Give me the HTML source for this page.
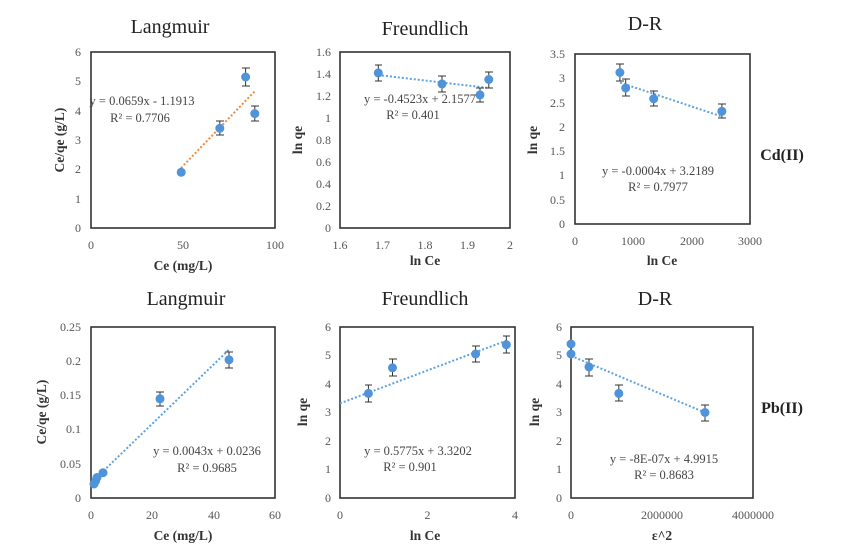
<!DOCTYPE html>
<html><head><meta charset="utf-8"><style>
body{margin:0;background:#fff}
svg{display:block;font-family:"Liberation Serif",serif}
.t{font-size:12px;fill:#555}
.ax{font-size:13.5px;font-weight:bold;fill:#333}
.ti{font-size:20px;fill:#222}
.eq{font-size:12.5px;fill:#444}
.f{fill:none;stroke:#333;stroke-width:1.6}
.pt{fill:#4f93d9}
.eb{stroke:#333;stroke-width:1}
.tb{stroke:#5ba3e0;stroke-width:2;stroke-dasharray:2,2;fill:none}
.to{stroke:#f08a40;stroke-width:2;stroke-dasharray:2,2;fill:none}
</style></head><body>
<svg width="864" height="554" viewBox="0 0 864 554">
<text class="ti" x="170" y="33" text-anchor="middle">Langmuir</text>
<text class="ti" x="425" y="35" text-anchor="middle">Freundlich</text>
<text class="ti" x="645" y="30" text-anchor="middle">D-R</text>
<text class="ti" x="186" y="305" text-anchor="middle">Langmuir</text>
<text class="ti" x="425" y="305" text-anchor="middle">Freundlich</text>
<text class="ti" x="655" y="305" text-anchor="middle">D-R</text>
<text x="782" y="160" text-anchor="middle" style="font-size:16px;font-weight:bold;fill:#222">Cd(II)</text>
<text x="782" y="413" text-anchor="middle" style="font-size:16px;font-weight:bold;fill:#222">Pb(II)</text>

<!-- Panel 1 -->
<rect class="f" x="91" y="52" width="184" height="176"/>
<g class="t" text-anchor="end">
<text x="81" y="232">0</text><text x="81" y="203">1</text><text x="81" y="173">2</text><text x="81" y="144">3</text><text x="81" y="115">4</text><text x="81" y="85">5</text><text x="81" y="56">6</text></g>
<g class="t" text-anchor="middle"><text x="91" y="249">0</text><text x="183" y="249">50</text><text x="275" y="249">100</text></g>
<text class="ax" x="183" y="270" text-anchor="middle">Ce (mg/L)</text>
<text class="ax" transform="translate(64,140) rotate(-90)" text-anchor="middle">Ce/qe (g/L)</text>
<line class="to" x1="181" y1="168" x2="255" y2="91"/>
<g class="eb"><path d="M219.8 121v14M216 121h8M216 135h8M245.6 68v18M242 68h8M242 86h8M254.8 106v15M251 106h8M251 121h8"/></g>
<g class="pt"><circle cx="181.2" cy="172.3" r="4.5"/><circle cx="219.8" cy="128.3" r="4.5"/><circle cx="245.6" cy="77" r="4.5"/><circle cx="254.8" cy="113.6" r="4.5"/></g>
<text class="eq" x="142" y="105" text-anchor="middle">y = 0.0659x - 1.1913</text>
<text class="eq" x="140" y="122" text-anchor="middle">R² = 0.7706</text>

<!-- Panel 2 -->
<rect class="f" x="340" y="52" width="170" height="176"/>
<g class="t" text-anchor="end">
<text x="331" y="232">0</text><text x="331" y="210">0.2</text><text x="331" y="188">0.4</text><text x="331" y="166">0.6</text><text x="331" y="144">0.8</text><text x="331" y="122">1</text><text x="331" y="100">1.2</text><text x="331" y="78">1.4</text><text x="331" y="56">1.6</text></g>
<g class="t" text-anchor="middle"><text x="340" y="249">1.6</text><text x="382.5" y="249">1.7</text><text x="425" y="249">1.8</text><text x="467.5" y="249">1.9</text><text x="510" y="249">2</text></g>
<text class="ax" x="425" y="265" text-anchor="middle">ln Ce</text>
<text class="ax" transform="translate(302,140) rotate(-90)" text-anchor="middle">ln qe</text>
<line class="tb" x1="378" y1="75" x2="489" y2="88"/>
<g class="eb"><path d="M378.3 65v16M375 65h7M375 81h7M442 76v16M438 76h8M438 92h8M480 88v14M476 88h8M476 102h8M488.8 72v16M485 72h8M485 88h8"/></g>
<g class="pt"><circle cx="378.3" cy="72.9" r="4.5"/><circle cx="442" cy="83.9" r="4.5"/><circle cx="480" cy="94.9" r="4.5"/><circle cx="488.8" cy="79.5" r="4.5"/></g>
<text class="eq" x="420" y="103" text-anchor="middle">y = -0.4523x + 2.1577</text>
<text class="eq" x="413" y="119" text-anchor="middle">R² = 0.401</text>

<!-- Panel 3 -->
<rect class="f" x="575" y="54" width="175" height="170"/>
<g class="t" text-anchor="end">
<text x="565" y="228">0</text><text x="565" y="204">0.5</text><text x="565" y="179">1</text><text x="565" y="155">1.5</text><text x="565" y="131">2</text><text x="565" y="107">2.5</text><text x="565" y="82">3</text><text x="565" y="58">3.5</text></g>
<g class="t" text-anchor="middle"><text x="575" y="245">0</text><text x="633" y="245">1000</text><text x="692" y="245">2000</text><text x="750" y="245">3000</text></g>
<text class="ax" x="662" y="265" text-anchor="middle">ln Ce</text>
<text class="ax" transform="translate(537,140) rotate(-90)" text-anchor="middle">ln qe</text>
<line class="tb" x1="620" y1="82.6" x2="722" y2="116.6"/>
<g class="eb"><path d="M619.9 64v17M616 64h8M616 81h8M625.7 79v17M622 79h8M622 96h8M653.7 91v15M650 91h8M650 106h8M721.9 104v14M718 104h8M718 118h8"/></g>
<g class="pt"><circle cx="619.9" cy="72.5" r="4.5"/><circle cx="625.7" cy="88" r="4.5"/><circle cx="653.7" cy="98.7" r="4.5"/><circle cx="721.9" cy="111.3" r="4.5"/></g>
<text class="eq" x="658" y="175" text-anchor="middle">y = -0.0004x + 3.2189</text>
<text class="eq" x="658" y="191" text-anchor="middle">R² = 0.7977</text>

<!-- Panel 4 -->
<rect class="f" x="91" y="327" width="184" height="171"/>
<g class="t" text-anchor="end">
<text x="81" y="502">0</text><text x="81" y="468">0.05</text><text x="81" y="433">0.1</text><text x="81" y="399">0.15</text><text x="81" y="365">0.2</text><text x="81" y="331">0.25</text></g>
<g class="t" text-anchor="middle"><text x="91" y="519">0</text><text x="152" y="519">20</text><text x="214" y="519">40</text><text x="275" y="519">60</text></g>
<text class="ax" x="183" y="540" text-anchor="middle">Ce (mg/L)</text>
<text class="ax" transform="translate(46,412) rotate(-90)" text-anchor="middle">Ce/qe (g/L)</text>
<line class="tb" x1="92" y1="482" x2="229" y2="349.6"/>
<g class="eb"><path d="M160 392v14M156 392h8M156 406h8M229 352v16M225 352h8M225 368h8"/></g>
<g class="pt"><circle cx="94" cy="484" r="4.5"/><circle cx="95.6" cy="481" r="4.5"/><circle cx="97" cy="477.5" r="4.5"/><circle cx="103" cy="472.7" r="4.5"/><circle cx="160" cy="398.8" r="4.5"/><circle cx="229" cy="359.8" r="4.5"/></g>
<text class="eq" x="207" y="455" text-anchor="middle">y = 0.0043x + 0.0236</text>
<text class="eq" x="207" y="472" text-anchor="middle">R² = 0.9685</text>

<!-- Panel 5 -->
<rect class="f" x="340" y="327" width="175" height="171"/>
<g class="t" text-anchor="end">
<text x="331" y="502">0</text><text x="331" y="473">1</text><text x="331" y="445">2</text><text x="331" y="416">3</text><text x="331" y="388">4</text><text x="331" y="359">5</text><text x="331" y="331">6</text></g>
<g class="t" text-anchor="middle"><text x="340" y="519">0</text><text x="427.5" y="519">2</text><text x="515" y="519">4</text></g>
<text class="ax" x="425" y="540" text-anchor="middle">ln Ce</text>
<text class="ax" transform="translate(307,412) rotate(-90)" text-anchor="middle">ln qe</text>
<line class="tb" x1="340" y1="403.4" x2="506" y2="340.8"/>
<g class="eb"><path d="M368.4 385v17M365 385h7M365 402h7M392.5 359v17M389 359h8M389 376h8M475.6 346v16M472 346h8M472 362h8M506.3 336v17M503 336h7M503 353h7"/></g>
<g class="pt"><circle cx="368.4" cy="393.4" r="4.5"/><circle cx="392.5" cy="367.8" r="4.5"/><circle cx="475.6" cy="354" r="4.5"/><circle cx="506.3" cy="344.7" r="4.5"/></g>
<text class="eq" x="418" y="455" text-anchor="middle">y = 0.5775x + 3.3202</text>
<text class="eq" x="410" y="471" text-anchor="middle">R² = 0.901</text>

<!-- Panel 6 -->
<rect class="f" x="571" y="327" width="182" height="171"/>
<g class="t" text-anchor="end">
<text x="562" y="502">0</text><text x="562" y="473">1</text><text x="562" y="445">2</text><text x="562" y="416">3</text><text x="562" y="388">4</text><text x="562" y="359">5</text><text x="562" y="331">6</text></g>
<g class="t" text-anchor="middle"><text x="571" y="519">0</text><text x="662" y="519">2000000</text><text x="753" y="519">4000000</text></g>
<text class="ax" x="662" y="540" text-anchor="middle">ε^2</text>
<text class="ax" transform="translate(539,412) rotate(-90)" text-anchor="middle">ln qe</text>
<line class="tb" x1="571" y1="355.8" x2="706" y2="413"/>
<g class="eb"><path d="M571 336v16M589 359v17M585 359h8M585 376h8M618.8 385v16M615 385h8M615 401h8M705 405v16M701 405h8M701 421h8"/></g>
<g class="pt"><circle cx="571" cy="344" r="4.5"/><circle cx="571" cy="354" r="4.5"/><circle cx="589" cy="367" r="4.5"/><circle cx="618.8" cy="393.4" r="4.5"/><circle cx="705" cy="412.5" r="4.5"/></g>
<text class="eq" x="664" y="463" text-anchor="middle">y = -8E-07x + 4.9915</text>
<text class="eq" x="664" y="479" text-anchor="middle">R² = 0.8683</text>
</svg>
</body></html>
